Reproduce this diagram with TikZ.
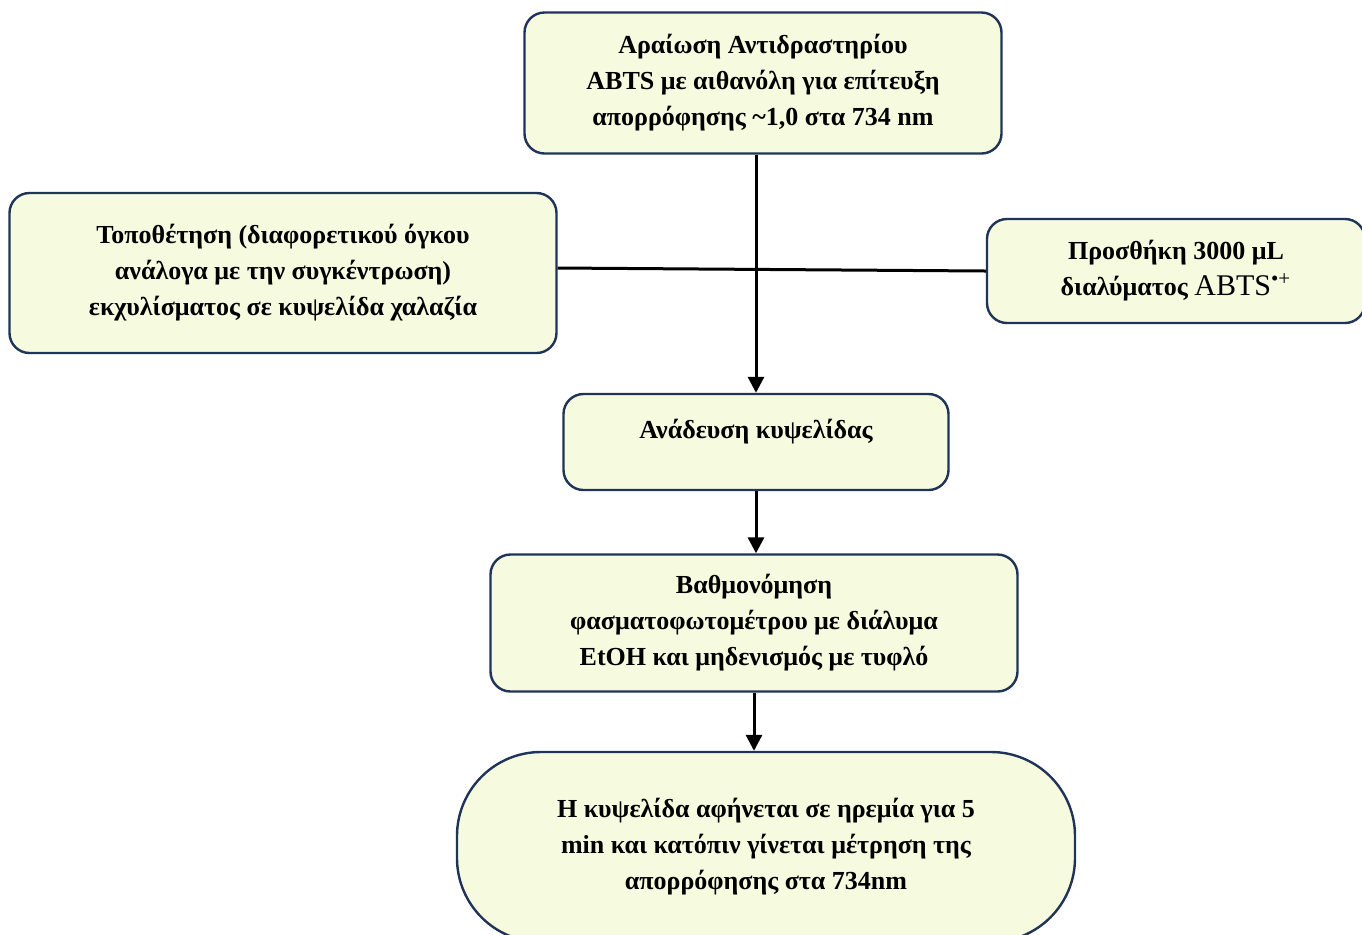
\documentclass[tikz,border=0pt]{standalone}
\usepackage{fontspec}
\setmainfont{Liberation Serif}
\usetikzlibrary{arrows.meta}
\definecolor{boxfill}{HTML}{F6FBE0}
\definecolor{boxline}{HTML}{1F3458}

\begin{document}
\begin{tikzpicture}[x=0.5pt,y=-0.5pt,
	stepbox/.style={draw=boxline, line width=1.2pt, fill=boxfill, rounded corners=10pt,
		align=center, inner sep=0pt, font=\fontsize{13}{18}\selectfont\bfseries},
	arr/.style={-{Triangle[length=8pt,width=8pt]}, line width=1.5pt}]
	\useasboundingbox (0,0) rectangle (1362,934);
	\clip (0,0) rectangle (1362,934);

	% boxes
	\node[stepbox, minimum width=238.5pt, minimum height=70.5pt] (dilute) at (763,83)
		{Αραίωση Αντιδραστηρίου\\ABTS με αιθανόλη για επίτευξη\\απορρόφησης \textasciitilde1,0 στα 734 nm};
	\node[stepbox, minimum width=273.5pt, minimum height=80pt] (place) at (283,273)
		{Τοποθέτηση (διαφορετικού όγκου\\ανάλογα με την συγκέντρωση)\\εκχυλίσματος σε κυψελίδα χαλαζία};
	\node[stepbox, minimum width=189pt, minimum height=52pt] (addabts) at (1176,271)
		{Προσθήκη 3000 μL\\διαλύματος {\mdseries\fontsize{15}{18}\selectfont ABTS\textsuperscript{•+}}};
	\node[stepbox, minimum width=192.5pt, minimum height=48pt, text depth=13pt] (stir) at (756,442)
		{Ανάδευση κυψελίδας};
	\node[stepbox, minimum width=263.5pt, minimum height=68.5pt] (calib) at (754,623)
		{Βαθμονόμηση\\φασματοφωτομέτρου με διάλυμα\\EtOH και μηδενισμός με τυφλό};
	\node[stepbox, minimum width=309pt, minimum height=95pt, rounded corners=42pt] (measure) at (766,847)
		{Η κυψελίδα αφήνεται σε ηρεμία για 5\\min και κατόπιν γίνεται μέτρηση της\\απορρόφησης στα 734nm};

	% connectors
	\draw[line width=1.5pt] ([yshift=2.5pt]place.east) -- (addabts.west);
	\draw[arr] (dilute.south -| stir.north) -- (stir.north);
	\draw[arr] (stir.south) -- (stir.south |- calib.north);
	\draw[arr] (calib.south) -- (calib.south |- measure.north);
\end{tikzpicture}
\end{document}
